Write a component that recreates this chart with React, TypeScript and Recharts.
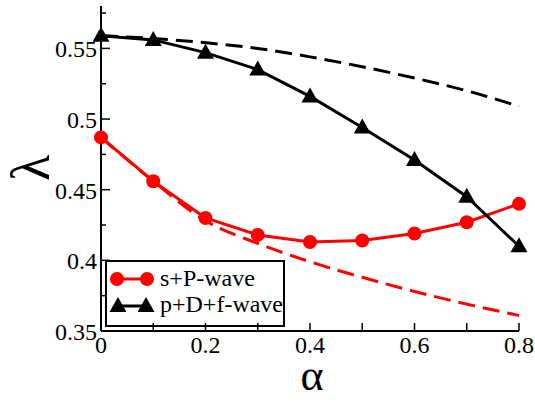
import { LineChart, Line, XAxis, YAxis } from "recharts";

// alpha values along the x axis
const alpha = [0, 0.1, 0.2, 0.3, 0.4, 0.5, 0.6, 0.7, 0.8];

// solid curves (with markers)
const sPWave = [0.487, 0.456, 0.43, 0.418, 0.413, 0.414, 0.419, 0.427, 0.44];
const pDfWave = [0.559, 0.556, 0.547, 0.535, 0.516, 0.494, 0.471, 0.445, 0.41];

// dashed reference curves
const sPWaveDashed = [0.487, 0.456, 0.428, 0.412, 0.399, 0.388, 0.378, 0.369, 0.361];
const pDfWaveDashed = [0.559, 0.557, 0.554, 0.55, 0.544, 0.537, 0.529, 0.52, 0.509];

const xTicks = [0, 0.1, 0.2, 0.3, 0.4, 0.5, 0.6, 0.7, 0.8];
const xLabelled = [0, 0.2, 0.4, 0.6, 0.8];
const yTicks = [0.35, 0.375, 0.4, 0.425, 0.45, 0.475, 0.5, 0.525, 0.55, 0.575];
const yLabelled = [0.35, 0.4, 0.45, 0.5, 0.55];

const data = alpha.map((a, i) => ({
  alpha: a,
  sP: sPWave[i],
  pDf: pDfWave[i],
  sPd: sPWaveDashed[i],
  pDfd: pDfWaveDashed[i],
}));

// force the serif face on every label
const fontCss =
  "#root svg text, #root .serif-chart text { font-family: 'Liberation Serif', 'Times New Roman', serif !important; }";

const BottomTick = ({ x, y, payload }: any) => (
  <g>
    <line x1={x} x2={x} y1={y} y2={y - 8} stroke="#000" strokeWidth={1.5} />
    {xLabelled.includes(payload.value) && (
      <text x={x} y={y + 22} textAnchor="middle" fontSize={24} fontFamily="Liberation Serif">
        {String(payload.value)}
      </text>
    )}
  </g>
);

const TopTick = ({ x, y }: any) => (
  <line x1={x} x2={x} y1={y} y2={y + 8} stroke="#000" strokeWidth={1.5} />
);

const LeftTick = ({ x, y, payload }: any) => {
  const major = yLabelled.includes(payload.value);
  return (
    <g>
      <line x1={x} x2={x + (major ? 9 : 5)} y1={y} y2={y} stroke="#000" strokeWidth={1.5} />
      {major && (
        <text x={x - 4} y={y + 9} textAnchor="end" fontSize={24} fontFamily="Liberation Serif">
          {String(payload.value)}
        </text>
      )}
    </g>
  );
};

const RightTick = ({ x, y, payload }: any) => {
  const major = yLabelled.includes(payload.value);
  return <line x1={x} x2={x - (major ? 9 : 5)} y1={y} y2={y} stroke="#000" strokeWidth={1.5} />;
};

const Triangle = ({ cx, cy }: any) => {
  if (cx == null || cy == null) return null;
  return (
    <polygon
      points={`${cx},${cy - 9} ${cx - 8.5},${cy + 6} ${cx + 8.5},${cy + 6}`}
      fill="#000"
    />
  );
};

const RedDot = ({ cx, cy }: any) => {
  if (cx == null || cy == null) return null;
  return <circle cx={cx} cy={cy} r={7} fill="#ff0000" />;
};

export default function App() {
  return (
    <div className="serif-chart" style={{ position: "absolute", left: 0, top: 0, width: 535, height: 402 }}>
      <style>{fontCss}</style>
      <LineChart width={535} height={402} data={data} margin={{ top: 6, right: 16, bottom: 0, left: 0 }}>
        <XAxis
          dataKey="alpha"
          type="number"
          domain={[0, 0.8]}
          ticks={xTicks}
          height={71}
          tickSize={0}
          tickMargin={0}
          tickLine={false}
          tick={<BottomTick />}
          axisLine={{ stroke: "#000", strokeWidth: 2 }}
          interval={0}
        />
        <XAxis
          xAxisId="top"
          orientation="top"
          dataKey="alpha"
          type="number"
          domain={[0, 0.8]}
          ticks={xTicks}
          height={0}
          tickSize={0}
          tickMargin={0}
          tickLine={false}
          tick={<TopTick />}
          axisLine={{ stroke: "#000", strokeWidth: 2 }}
          interval={0}
        />
        <YAxis
          type="number"
          domain={[0.35, 0.58]}
          ticks={yTicks}
          width={101}
          tickSize={0}
          tickMargin={0}
          tickLine={false}
          tick={<LeftTick />}
          axisLine={{ stroke: "#000", strokeWidth: 2 }}
          interval={0}
          allowDataOverflow
        />
        <YAxis
          yAxisId="right"
          orientation="right"
          type="number"
          domain={[0.35, 0.58]}
          ticks={yTicks}
          width={0}
          tickSize={0}
          tickMargin={0}
          tickLine={false}
          tick={<RightTick />}
          axisLine={{ stroke: "#000", strokeWidth: 2 }}
          interval={0}
          allowDataOverflow
        />
        <Line
          xAxisId="top"
          yAxisId="right"
          dataKey="sP"
          stroke="none"
          dot={false}
          activeDot={false}
          legendType="none"
          isAnimationActive={false}
        />
        <Line
          dataKey="pDfd"
          stroke="#000"
          strokeWidth={3}
          strokeDasharray="17 8"
          dot={false}
          activeDot={false}
          type="monotone"
          isAnimationActive={false}
        />
        <Line
          dataKey="sPd"
          stroke="#ff0000"
          strokeWidth={3}
          strokeDasharray="17 8"
          dot={false}
          activeDot={false}
          type="monotone"
          isAnimationActive={false}
        />
        <Line
          dataKey="sP"
          stroke="#ff0000"
          strokeWidth={3}
          dot={<RedDot />}
          activeDot={false}
          isAnimationActive={false}
        />
        <Line
          dataKey="pDf"
          stroke="#000"
          strokeWidth={3}
          dot={<Triangle />}
          activeDot={false}
          isAnimationActive={false}
        />
        <text x={312} y={390} textAnchor="middle" fontSize={44} fontFamily="Liberation Serif">
          α
        </text>
        <text
          x={49}
          y={168}
          textAnchor="middle"
          fontSize={54}
          fontFamily="Liberation Serif"
          transform="rotate(-90 49 168)"
        >
          λ
        </text>
        <g transform="translate(105 260)">
          <rect x={1} y={1} width={178} height={65} fill="#fff" stroke="#000" strokeWidth={2} />
          <line x1={12} x2={42} y1={19} y2={19} stroke="#ff0000" strokeWidth={3} />
          <circle cx={12} cy={19} r={7} fill="#ff0000" />
          <circle cx={42} cy={19} r={7} fill="#ff0000" />
          <text x={55} y={26} fontSize={24} fontFamily="Liberation Serif">
            s+P-wave
          </text>
          <line x1={13} x2={41} y1={46} y2={46} stroke="#000" strokeWidth={3} />
          <Triangle cx={13} cy={46} />
          <Triangle cx={41} cy={46} />
          <text x={55} y={52} fontSize={24} fontFamily="Liberation Serif">
            p+D+f-wave
          </text>
        </g>
      </LineChart>
    </div>
  );
}
